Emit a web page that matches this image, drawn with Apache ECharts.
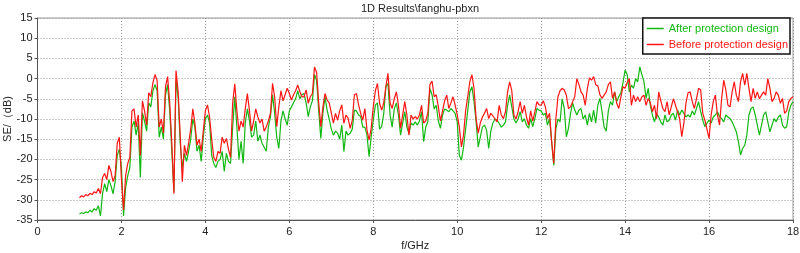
<!DOCTYPE html>
<html><head><meta charset="utf-8">
<script src="https://cdn.jsdelivr.net/npm/echarts@6/dist/echarts.min.js"></script>
<style>html,body{margin:0;padding:0;background:#fff}#c{width:800px;height:253px}</style>
</head><body><div id="c"></div><script>
const titleText = '1D Results\\fanghu-pbxn';
const xName = 'f/GHz';
const yName = 'SE/\uFF08dB)';
const seriesNames = ['After protection design', 'Before protection design'];
const fStart = 1.0, fStep = 0.05;   // frequency grid of the samples (GHz)
const xMin = 0, xMax = 18, xInterval = 2;
const yMin = -35, yMax = 15, yInterval = 5;

// "After protection design" (green), 1.00 .. 18.00 GHz
const afterSE = [
-33.5,-33.2,-33.4,-33.0,-33.2,-32.6,-33.0,-32.2,-32.6,-31.5,
-34.0,-28.5,-26.0,-28.0,-25.0,-26.5,-28.5,-25.5,-19.0,-17.5,
-22.0,-34.0,-27.0,-24.0,-22.0,-12.0,-10.5,-14.0,-11.0,-24.5,
-8.5,-10.5,-13.0,-6.0,-7.0,-3.0,-1.5,-3.0,-14.5,-12.0,
-15.0,-4.0,-1.5,-8.0,-18.0,-28.0,-0.5,-4.5,-16.0,-22.0,
-18.5,-20.5,-18.0,-15.0,-10.0,-12.0,-18.0,-16.5,-20.5,-14.5,
-10.0,-9.0,-11.0,-19.0,-21.0,-22.0,-20.5,-20.0,-18.0,-23.0,
-18.5,-20.5,-21.0,-12.0,-4.5,-12.0,-20.0,-15.5,-21.0,-11.0,
-7.5,-10.5,-14.5,-14.0,-10.5,-15.5,-14.0,-16.0,-17.0,-18.0,
-12.0,-9.5,-4.0,-8.5,-14.5,-17.3,-10.5,-8.0,-10.0,-11.5,
-8.0,-7.0,-6.0,-5.0,-3.0,-5.0,-4.0,-3.7,-6.0,-9.4,
-7.0,-5.5,1.0,-0.5,-8.0,-14.8,-8.5,-4.5,-7.8,-10.0,
-12.5,-14.0,-13.0,-13.5,-15.0,-11.5,-18.1,-13.0,-14.0,-13.5,
-12.5,-7.8,-8.0,-9.0,-9.4,-12.0,-12.0,-14.0,-19.3,-14.4,
-10.3,-6.5,-6.0,-12.5,-11.9,-8.6,-2.0,-1.2,-9.0,-12.0,
-7.5,-6.0,-9.0,-14.0,-11.0,-8.2,-12.0,-13.6,-11.0,-11.5,
-10.7,-11.5,-10.5,-8.2,-15.6,-12.0,-10.7,-2.5,-4.0,-7.5,
-6.6,-10.5,-12.3,-9.0,-7.5,-7.8,-8.2,-7.4,-8.0,-8.6,
-10.7,-19.0,-20.2,-17.0,-12.5,-8.0,-3.3,-2.0,-5.7,-10.7,
-16.9,-14.5,-12.0,-11.5,-12.8,-17.3,-13.0,-11.0,-10.0,-10.3,
-11.1,-12.0,-11.5,-10.7,-6.6,-4.1,-7.0,-10.0,-11.0,-10.0,
-8.2,-10.7,-9.9,-11.5,-12.3,-9.9,-11.9,-9.9,-7.4,-7.8,
-8.0,-9.0,-8.6,-11.5,-9.9,-15.6,-21.5,-12.5,-10.0,-10.7,
-5.0,-7.4,-14.4,-12.3,-8.6,-6.0,-7.8,-9.0,-7.8,-7.4,
-10.0,-9.0,-11.5,-8.6,-10.7,-7.8,-11.0,-6.6,-4.9,-8.2,
-12.0,-13.0,-8.0,-5.7,-6.6,-3.3,-5.7,-4.5,-3.5,-1.0,
2.1,1.0,-3.3,-1.6,-2.4,0.0,-0.8,2.9,1.0,-0.8,
-4.9,-2.4,-6.6,-9.0,-10.7,-8.6,-9.5,-10.7,-11.5,-9.0,
-10.7,-10.3,-9.0,-8.6,-10.3,-7.8,-9.0,-7.8,-8.6,-9.5,
-9.0,-9.5,-8.0,-9.0,-7.4,-5.7,-8.2,-10.3,-11.9,-11.0,
-10.3,-11.0,-9.5,-9.0,-8.2,-9.4,-9.9,-10.7,-9.0,-9.5,
-9.9,-10.7,-11.9,-13.2,-15.6,-18.9,-17.3,-16.5,-14.0,-9.0,
-7.4,-7.0,-9.0,-11.5,-14.0,-11.5,-9.0,-8.2,-10.7,-13.2,
-11.5,-9.9,-10.7,-9.5,-9.0,-11.5,-12.3,-11.9,-8.2,-6.6,
-5.7
];

// "Before protection design" (red), 1.00 .. 18.00 GHz
const beforeSE = [
-29.5,-29.0,-29.3,-28.7,-29.0,-28.4,-28.7,-28.0,-28.3,-27.2,
-28.5,-24.5,-23.5,-25.0,-21.5,-23.0,-25.5,-24.0,-16.0,-14.5,
-25.0,-32.5,-24.0,-21.0,-19.5,-8.0,-7.5,-12.0,-9.0,-19.0,
-5.5,-8.0,-11.5,-3.5,-4.5,-1.0,1.0,-0.5,-12.0,-10.0,
-13.5,-2.0,0.5,-6.0,-16.0,-28.5,2.0,-3.0,-14.0,-25.5,
-16.5,-19.0,-16.0,-12.5,-7.5,-11.0,-16.5,-15.0,-18.0,-13.0,
-8.0,-6.5,-9.5,-15.0,-19.5,-20.5,-18.0,-18.5,-14.5,-16.0,
-14.8,-17.5,-19.5,-6.0,-1.3,-8.0,-13.0,-10.5,-12.0,-7.5,
-3.7,-8.0,-13.0,-10.5,-7.5,-9.5,-11.0,-10.0,-13.0,-12.0,
-10.5,-8.6,-1.2,-4.5,-11.9,-7.0,-3.0,-5.5,-4.0,-2.4,
-3.7,-5.3,-4.0,-3.0,-1.6,-3.2,-4.5,-4.5,-2.8,-6.1,
-4.5,-3.7,2.9,1.5,-6.0,-11.9,-7.0,-3.7,-5.3,-6.0,
-8.5,-11.0,-8.6,-10.3,-8.0,-6.5,-11.1,-9.0,-9.8,-12.3,
-10.3,-4.0,-3.7,-6.5,-8.6,-10.3,-7.4,-12.7,-15.2,-12.3,
-7.0,-3.0,-1.2,-6.1,-7.8,-6.0,-2.0,1.3,-6.0,-7.4,
-5.0,-3.3,-6.6,-12.3,-9.0,-5.7,-9.0,-14.0,-9.0,-10.0,
-9.4,-10.0,-9.0,-6.6,-11.0,-10.5,-8.5,-1.5,-0.6,-4.5,
-4.0,-7.0,-10.5,-8.0,-5.5,-4.1,-7.4,-6.0,-4.5,-6.5,
-9.0,-12.0,-16.9,-14.0,-8.0,-4.5,-0.8,1.0,-2.4,-9.9,
-13.5,-11.0,-9.5,-8.6,-7.4,-9.9,-8.6,-9.2,-10.0,-10.7,
-6.6,-9.0,-9.9,-8.2,-3.3,-0.8,-3.0,-9.0,-10.0,-8.2,
-5.7,-8.6,-6.6,-9.5,-11.5,-8.0,-10.5,-8.2,-5.7,-6.5,
-6.6,-5.5,-7.0,-9.9,-8.6,-15.6,-21.0,-10.0,-4.5,-3.0,
-2.4,-2.8,-4.1,-7.4,-7.0,-5.7,-4.5,0.0,-1.5,-3.3,
-4.1,-6.6,-2.5,0.2,-0.4,0.5,-1.5,-1.8,-4.0,-4.9,
-4.1,-3.3,-1.5,-0.8,-4.9,-3.3,-6.1,-7.4,-4.5,-2.0,
-2.4,-1.0,0.0,-6.6,-4.1,-5.7,-4.5,-5.7,-4.5,-4.1,
-6.6,-4.9,-6.0,-8.2,-6.6,-9.9,-3.3,-5.5,-7.4,-8.2,
-5.7,-9.0,-7.0,-5.0,-6.6,-8.2,-10.0,-14.4,-11.0,-6.0,
-3.5,-3.3,-5.7,-7.4,-5.0,-2.4,-2.8,-8.6,-10.3,-12.5,
-14.8,-9.0,-5.7,-4.1,-9.0,-11.5,-4.9,-0.4,-2.8,-6.6,
-7.0,-3.3,-0.8,-4.1,-5.7,-0.8,1.3,-1.6,1.3,-2.4,
-5.7,-2.4,-4.9,-3.3,-5.0,-4.1,-3.3,-4.1,0.0,-2.4,
-5.7,-4.9,-3.3,-4.1,-6.1,-4.9,-8.6,-8.0,-5.7,-4.9,
-4.5
];

const GREEN = '#12b812', RED = '#ff1414';
const FONT = 'Liberation Sans, Arial, sans-serif';
const toPairs = arr => arr.map((v, i) => [+(fStart + i * fStep).toFixed(2), v]);

const chart = echarts.init(document.getElementById('c'), null, {renderer: 'canvas'});
chart.setOption({
  animation: false,
  backgroundColor: '#fff',
  title: {
    text: titleText, left: 415, top: -2, textAlign: 'center',
    textStyle: {fontFamily: FONT, fontSize: 11, fontWeight: 'normal', color: '#222'}
  },
  legend: {
    orient: 'vertical', right: 10, top: 18,
    borderColor: '#111', borderWidth: 1.5, backgroundColor: '#fff',
    padding: [4, 2, 3, 4], itemGap: 3, itemWidth: 17, itemHeight: 1.5,
    icon: 'rect',
    textStyle: {fontFamily: FONT, fontSize: 11, lineHeight: 13},
    data: [
      {name: seriesNames[0], textStyle: {color: GREEN}},
      {name: seriesNames[1], textStyle: {color: RED}}
    ]
  },
  grid: {left: 37.5, right: 7, top: 18, bottom: 33, show: true, borderColor: '#999', borderWidth: 1,
         containLabel: false, outerBoundsMode: 'none'},
  xAxis: {
    type: 'value', min: xMin, max: xMax, interval: xInterval,
    name: xName, nameLocation: 'middle', nameGap: 20, nameMoveOverlap: false,
    nameTextStyle: {fontFamily: FONT, fontSize: 11, color: '#222'},
    axisLine: {show: true, onZero: false, lineStyle: {color: '#555'}},
    axisTick: {show: true, length: 3, lineStyle: {color: '#555'}},
    axisLabel: {fontFamily: FONT, fontSize: 11, color: '#222', margin: 6},
    splitLine: {show: true, lineStyle: {color: '#999', type: [1, 2]}}
  },
  yAxis: {
    type: 'value', min: yMin, max: yMax, interval: yInterval,
    name: yName, nameLocation: 'middle', nameGap: 24, nameMoveOverlap: false,
    nameTextStyle: {fontFamily: FONT, fontSize: 11, color: '#222'},
    axisLine: {show: true, onZero: false, lineStyle: {color: '#555'}},
    axisTick: {show: true, length: 3, lineStyle: {color: '#555'}},
    axisLabel: {fontFamily: FONT, fontSize: 11, color: '#222', margin: 5},
    splitLine: {show: true, lineStyle: {color: '#999', type: [1, 2]}}
  },
  series: [
    {name: seriesNames[0], type: 'line', data: toPairs(afterSE), symbol: 'none',
     lineStyle: {color: GREEN, width: 1.2}, itemStyle: {color: GREEN}},
    {name: seriesNames[1], type: 'line', data: toPairs(beforeSE), symbol: 'none',
     lineStyle: {color: RED, width: 1.2}, itemStyle: {color: RED}}
  ]
});
</script></body></html>
